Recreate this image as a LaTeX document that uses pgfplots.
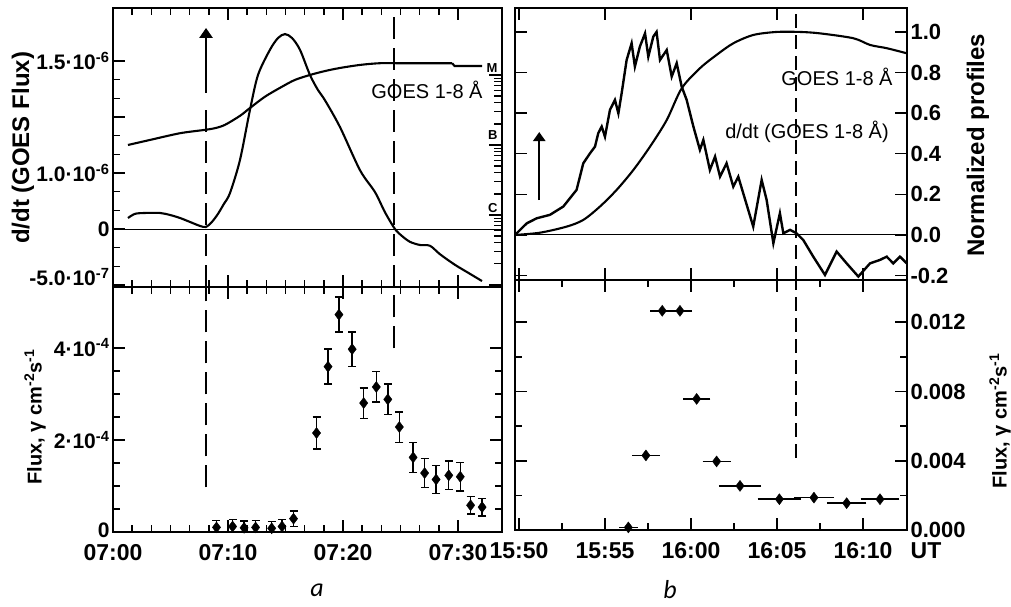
\documentclass[border=0pt]{standalone}
\usepackage{pgfplots}
\pgfplotsset{compat=1.18}
\usepackage{fontspec}
\setmainfont{Liberation Sans}
\newfontfamily\carl{Carlito}
\usetikzlibrary{arrows.meta}
\begin{document}
\begin{tikzpicture}[x=1pt,y=1pt]
\path[use as bounding box] (0,0) rectangle (1011,606);
\pgfplotsset{
 base/.style={scale only axis, anchor=south west,
   axis line style={line width=2.6pt},
   every tick/.style={black, line width=1.5pt},
   tick align=inside, major tick length=12pt, minor tick length=7pt,
   yticklabel style={font={\fontsize{21}{24}\selectfont\bfseries}},
   xticklabel style={font={\fontsize{23}{26}\selectfont\bfseries}, inner ysep=1pt, yshift=-11pt}},
 curve/.style={black, line width=2.1pt, no markers},
 dashL/.style={black, line width=2.6pt, dash pattern=on 22pt off 9pt},
 dashR/.style={black, line width=2.2pt, dash pattern=on 14pt off 7pt},
}
% ---------------- top-left ----------------
\begin{axis}[base, at={(113pt,319pt)}, width=389pt, height=279pt,
 xmin=0, xmax=33.83, ymin=-1.036, ymax=3.946,
 xtick={0,10,20,30}, xticklabels={}, minor x tick num=5,
 ytick={-1,0,1,2,3}, yticklabels={,0,1.0·10\textsuperscript{-6},,1.5·10\textsuperscript{-6}},
 minor y tick num=2, ytick pos=left,
 extra y ticks={-0.857}, extra y tick labels={-5.0·10\textsuperscript{-7}},
 extra y tick style={major tick length=0pt}]
\addplot[black, line width=0.9pt] coordinates {(0,0) (33.83,0)};
% GOES flux
\addplot[curve, smooth] coordinates {
(1.30,1.50)(3.22,1.59)(5.83,1.71)(8.0,1.77)(8.87,1.80)(9.74,1.86)(11.04,2.02)(11.91,2.16)
(13.2,2.36)(14.52,2.52)(15.8,2.66)(17.13,2.75)(18.43,2.82)(19.74,2.875)(21.5,2.93)(23.2,2.96)
(24.96,2.96)(29.5,2.96)};
\addplot[curve] coordinates {(29.5,2.96)(29.7,2.91)(32.1,2.91)};
% derivative
\addplot[curve, smooth, tension=0.5] coordinates {
(1.30,0.196)(1.91,0.27)(2.78,0.286)(4.09,0.286)(4.96,0.25)(5.83,0.196)(6.70,0.125)(7.57,0.054)
(8.09,0.036)(8.6,0.125)(9.13,0.27)(9.65,0.45)(10.17,0.64)(11.04,1.23)(11.91,2.125)(12.61,2.75)
(13.65,3.20)(14.35,3.41)(14.96,3.48)(15.57,3.41)(16.26,3.20)(17.13,2.75)(17.83,2.48)(18.43,2.30)
(19.74,1.82)(21.48,1.05)(22.78,0.66)(23.65,0.30)(24.52,0.0)(25.13,-0.125)(25.83,-0.23)(26.70,-0.286)
(27.57,-0.30)(28.43,-0.45)(29.74,-0.64)(31.04,-0.80)(32.09,-0.93)};
\addplot[dashL] coordinates {(8.09,-1.036)(8.09,2.16)};
\addplot[black, line width=2.6pt, -{Triangle[width=13pt,length=10pt]}] coordinates {(8.09,2.43)(8.09,3.59)};
\addplot[dashL] coordinates {(24.43,-1.036)(24.43,3.946)};
\end{axis}
% log overlay (GOES class scale)
\begin{axis}[at={(113pt,319pt)}, anchor=south west, scale only axis, width=389pt, height=279pt,
 ymode=log, ymin=9.35e-8, ymax=9.06e-4, xmin=0, xmax=1,
 axis line style={draw=none}, xtick=\empty, ytick pos=right,
 ytick={1e-7,1e-6,1e-5,1e-4}, yticklabels={},
 tick align=inside, major tick length=13pt, minor tick length=8pt,
 every tick/.style={black, line width=1.2pt}]
\addplot[draw=none] coordinates {(0.5,1e-6)};
\end{axis}
% ---------------- bottom-left ----------------
\begin{axis}[base, at={(113pt,74pt)}, width=389pt, height=245pt,
 xmin=0, xmax=33.83, ymin=0, ymax=5.32,
 xtick={0,10,20,30}, xticklabels={07:00,07:10,07:20,07:30}, minor x tick num=5,
 ytick={0,2,4}, yticklabels={\raisebox{4pt}{0},2·10\textsuperscript{-4},4·10\textsuperscript{-4}},
 minor y tick num=3]
\addplot[dashL] coordinates {(8.09,0.97)(8.09,5.32)};
\addplot[dashL] coordinates {(24.43,3.99)(24.43,5.32)};
\addplot[black, only marks, mark=diamond*, mark size=5.5pt,
 error bars/.cd, y dir=both, y explicit,
 error bar style={line width=1.4pt},
 error mark options={rotate=90, mark size=4pt, line width=1.4pt}]
 table[x=x, y=y, y error=e] {
x y e
9.0 0.10 0.15
10.4 0.12 0.15
11.4 0.09 0.15
12.4 0.10 0.15
13.8 0.08 0.15
14.7 0.12 0.15
15.7 0.29 0.17
17.7 2.15 0.35
18.7 3.59 0.38
19.65 4.72 0.38
20.8 3.97 0.37
21.8 2.80 0.33
22.9 3.15 0.33
23.9 2.88 0.33
24.9 2.28 0.33
26.1 1.62 0.33
27.1 1.28 0.31
28.1 1.14 0.31
29.2 1.23 0.31
30.2 1.20 0.31
31.1 0.58 0.19
32.1 0.54 0.19
};
\end{axis}
% ---------------- top-right ----------------
\begin{axis}[base, at={(515pt,326pt)}, width=392pt, height=272pt,
 xmin=-0.23, xmax=22.56, ymin=-0.222, ymax=1.118,
 xtick={0,5,10,15,20}, xticklabels={},
 ytick={-0.2,0,0.2,0.4,0.6,0.8,1.0}, yticklabels={-0.2,0.0,0.2,0.4,0.6,0.8,1.0},
 yticklabel pos=right, yticklabel style={font={\fontsize{22}{25}\selectfont\bfseries}}]
\addplot[black, line width=0.9pt] coordinates {(-0.23,0) (22.56,0)};
\addplot[curve, smooth] coordinates {
(-0.23,0.0)(1.22,0.011)(2.77,0.041)(3.74,0.074)(4.71,0.140)(5.68,0.222)(6.65,0.320)(7.62,0.435)
(8.59,0.566)(9.46,0.722)(10.52,0.821)(11.49,0.887)(12.46,0.944)(13.62,0.985)(14.98,1.0)(16.34,1.0)
(17.50,0.993)(19.44,0.969)(20.41,0.936)(21.38,0.920)(22.54,0.895)};
\addplot[black, line width=2.4pt] coordinates {
(-0.23,0.0)(0.45,0.057)(1.03,0.082)(1.80,0.099)(2.58,0.140)(3.35,0.222)(3.74,0.353)(4.13,0.402)
(4.42,0.435)(4.61,0.501)(4.81,0.534)(5.00,0.484)(5.29,0.616)(5.58,0.665)(5.78,0.599)(5.97,0.698)
(6.26,0.862)(6.55,0.944)(6.74,0.829)(7.03,0.928)(7.33,0.993)(7.52,0.878)(7.81,0.977)(8.00,1.0)
(8.20,0.862)(8.59,0.911)(8.88,0.780)(9.17,0.846)(9.46,0.731)(9.75,0.665)(10.14,0.534)(10.52,0.419)
(10.72,0.468)(11.10,0.320)(11.40,0.386)(11.69,0.287)(12.07,0.353)(12.46,0.238)(12.75,0.287)(13.04,0.205)
(13.62,0.041)(14.11,0.271)(14.40,0.172)(14.79,-0.041)(15.17,0.107)(15.37,0.008)(15.76,0.025)(16.14,0.008)
(16.53,-0.025)(17.11,-0.107)(17.79,-0.197)(18.47,-0.082)(19.05,-0.140)(19.73,-0.205)(20.41,-0.140)(20.99,-0.123)
(21.38,-0.107)(21.76,-0.140)(22.15,-0.107)(22.54,-0.140)};
\addplot[dashR] coordinates {(16.1,-0.222)(16.1,1.118)};
\addplot[black, line width=2.4pt, -{Triangle[width=12pt,length=9pt]}] coordinates {(1.18,0.172)(1.18,0.507)};
\end{axis}
% ---------------- bottom-right ----------------
\begin{axis}[base, at={(515pt,76pt)}, width=392pt, height=250pt,
 xmin=-0.23, xmax=22.56, ymin=0, ymax=0.01444,
 xtick={0,5,10,15,20}, xticklabels={15:50,15:55,16:00,16:05,16:10}, minor x tick num=1,
 ytick={0,0.004,0.008,0.012}, yticklabels={0.000,0.004,0.008,0.012}, minor y tick num=1,
 yticklabel pos=right, scaled y ticks=false,
 yticklabel style={font={\fontsize{22}{25}\selectfont\bfseries}}]
\addplot[dashR] coordinates {(16.1,0.00416)(16.1,0.01444)};
\addplot[black, only marks, mark=diamond*, mark size=5.5pt,
 error bars/.cd, x dir=both, x explicit,
 error bar style={line width=1.4pt},
 error mark options={mark size=4pt, line width=1.4pt}]
 table[x=x, y=y, x error=e] {
x y e
6.36 0.00015 0.3
7.38 0.00431 0.56
8.33 0.01266 0.47
9.36 0.01266 0.48
10.33 0.00757 0.56
11.49 0.00396 0.58
12.85 0.00255 1.0
15.14 0.00178 1.03
17.15 0.00187 0.94
19.05 0.00155 0.92
20.99 0.00178 0.89
};
\end{axis}
% ---------------- texts ----------------
\node[rotate=90, font={\fontsize{24}{28}\selectfont\bfseries}] at (23,458) {d/dt (GOES Flux)};
\node[rotate=90, font={\fontsize{20}{24}\selectfont\bfseries}] at (35,189) {Flux, γ cm\textsuperscript{-2}s\textsuperscript{-1}};
\node[rotate=90, font={\fontsize{24}{28}\selectfont\bfseries}] at (978,461) {Normalized profiles};
\node[rotate=90, font={\fontsize{20}{24}\selectfont\bfseries}] at (1000,185) {Flux, γ cm\textsuperscript{-2}s\textsuperscript{-1}};
\node[font={\fontsize{23}{26}\selectfont\bfseries}] at (926,55) {UT};
\node[font={\carl\itshape\fontsize{26}{30}\selectfont}] at (317,16) {a};
\node[font={\carl\itshape\fontsize{26}{30}\selectfont}] at (670,16) {b};
\node[font={\fontsize{20}{23}\selectfont}] at (427,516) {GOES 1-8 Å};
\node[font={\fontsize{20}{23}\selectfont}] at (837,529) {GOES 1-8 Å};
\node[font={\fontsize{20}{23}\selectfont}] at (807,474) {d/dt (GOES 1-8 Å)};
\node[font={\fontsize{13}{15}\selectfont\bfseries}, anchor=east] at (501,538) {M};
\node[font={\fontsize{13}{15}\selectfont\bfseries}, anchor=east] at (501,471) {B};
\node[font={\fontsize{13}{15}\selectfont\bfseries}, anchor=east] at (501,398) {C};
\end{tikzpicture}
\end{document}
